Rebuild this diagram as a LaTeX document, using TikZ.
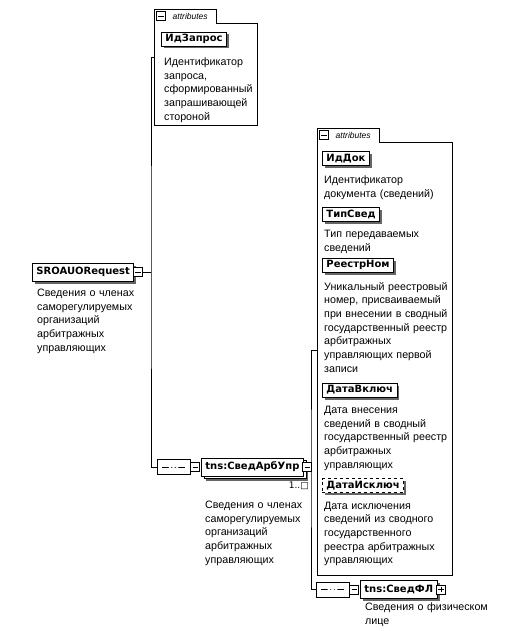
\documentclass[tikz,border=0pt]{standalone}
\usepackage{fontspec}
\setmainfont{Liberation Sans}
\newfontfamily\boxfont{DejaVu Sans}
\usetikzlibrary{shapes.misc,shadows}

\newcommand{\descfont}{\fontsize{10.7}{13.7}\selectfont}

\tikzset{
  elbase/.style={draw, line width=0.9pt, fill=white, inner xsep=4pt, inner ysep=0pt,
    minimum height=18pt, anchor=west, font=\boxfont\bfseries\fontsize{10}{12}\selectfont},
  elem/.style={elbase, drop shadow={shadow xshift=2.5pt, shadow yshift=-2.5pt, fill=black!60, opacity=1}},
  multi/.style={elbase, drop shadow={shadow xshift=4.5pt, shadow yshift=-4.5pt, fill=black!60, opacity=1},
    copy shadow={shadow xshift=2.5pt, shadow yshift=-2.5pt}},
  attr/.style={elem, minimum height=14pt},
  optattr/.style={attr, dashed},
  desc/.style={anchor=base west, inner sep=0pt, text width=140pt, align=left, font=\descfont},
  expbox/.style={draw, fill=white, line width=0.6pt, minimum size=9pt, inner sep=0pt,
    path picture={\draw[line width=0.6pt] ([xshift=1.8pt]path picture bounding box.west) -- ([xshift=-1.8pt]path picture bounding box.east);}},
  plusbox/.style={draw, fill=white, line width=0.6pt, minimum size=9pt, inner sep=0pt,
    path picture={
      \draw[line width=0.6pt] ([xshift=1.8pt]path picture bounding box.west) -- ([xshift=-1.8pt]path picture bounding box.east);
      \draw[line width=0.6pt] ([yshift=-1.8pt]path picture bounding box.north) -- ([yshift=1.8pt]path picture bounding box.south);}},
  seqbox/.style={chamfered rectangle, chamfered rectangle xsep=3pt, draw, line width=0.8pt, fill=white,
    minimum width=33pt, minimum height=15pt, inner sep=0pt,
    path picture={
      \draw[line width=0.8pt] ([xshift=5pt]path picture bounding box.west) -- ([xshift=-5pt]path picture bounding box.east);
      \fill (path picture bounding box.center) circle (1.5pt);
      \fill ([xshift=-3.5pt]path picture bounding box.center) circle (1.5pt);
      \fill ([xshift=3.5pt]path picture bounding box.center) circle (1.5pt);}},
  attrbody/.style={inner sep=0pt, anchor=north west},
  attrtab/.style={inner xsep=2pt, inner ysep=0pt, minimum height=13pt, minimum width=62pt, anchor=south west,
    font=\itshape\fontsize{8.5}{10}\selectfont},
  wire/.style={line width=0.8pt}
}

\begin{document}
\begin{tikzpicture}[x=1pt,y=-1pt]
  \useasboundingbox (0,0) rectangle (515,631);

  % root element
  \node[elem] (req) at (32,272) {SROAUORequest};
  \node[expbox, anchor=west] (req-exp) at ([xshift=-1pt]req.east) {};
  \node[desc] (req-desc) at (37,296.5) {Сведения о членах\\саморегулируемых\\организаций\\арбитражных\\управляющих};

  % first attribute group
  \node[attrbody, minimum width=103pt, minimum height=102pt] (attrA) at (154,23) {};
  \node[attrtab] (tabA) at (attrA.north west) {\hspace*{10pt}attributes};
  \draw[line width=0.8pt] (attrA.south west) -- (tabA.north west) -- (tabA.north east)
    -- (tabA.south east) -- (attrA.north east) -- (attrA.south east) -- cycle;
  \node[expbox] (tabA-exp) at ([xshift=7pt]tabA.west) {};
  \node[attr] (idz) at (161,39) {ИдЗапрос};
  \node[desc] (idz-desc) at (164,65.5) {Идентификатор\\запроса,\\сформированный\\запрашивающей\\стороной};

  % sequence and child element
  \node[seqbox] (seq1) at (173.5,467) {};
  \node[expbox, anchor=west] (seq1-exp) at (seq1.east) {};
  \node[multi] (arb) at ([xshift=1pt]seq1-exp.east) {tns:СведАрбУпр};
  \node[expbox, anchor=west] (arb-exp) at ([xshift=-1.5pt]arb.east) {};
  \node[anchor=east, inner sep=0pt, font=\boxfont\fontsize{9}{10}\selectfont] (arb-mult) at (309,486) {1..□};
  \node[desc] (arb-desc) at (205,508.5) {Сведения о членах\\саморегулируемых\\организаций\\арбитражных\\управляющих};

  \coordinate (a1) at (154,57);
  \coordinate (br1) at (151,272);
  \draw[wire] (req-exp.east) -- (br1);
  \draw[wire] (a1) -| (br1) |- (seq1.west);

  % second attribute group
  \node[attrbody, minimum width=135pt, minimum height=433pt] (attrB) at (317,142) {};
  \node[attrtab] (tabB) at (attrB.north west) {\hspace*{10pt}attributes};
  \draw[line width=0.8pt] (attrB.south west) -- (tabB.north west) -- (tabB.north east)
    -- (tabB.south east) -- (attrB.north east) -- (attrB.south east) -- cycle;
  \node[expbox] (tabB-exp) at ([xshift=7pt]tabB.west) {};

  \node[attr] (iddok) at (322,158.5) {ИдДок};
  \node[desc] (iddok-desc) at (324,183.5) {Идентификатор\\документа (сведений)};
  \node[attr] (tip) at (322,214) {ТипСвед};
  \node[desc] (tip-desc) at (324,237.5) {Тип передаваемых\\сведений};
  \node[attr] (reg) at (322,265) {РеестрНом};
  \node[desc] (reg-desc) at (324,290) {Уникальный реестровый\\номер, присваиваемый\\при внесении в сводный\\государственный реестр\\арбитражных\\управляющих первой\\записи};
  \node[attr] (dvk) at (322,390) {ДатаВключ};
  \node[desc] (dvk-desc) at (324,413.5) {Дата внесения\\сведений в сводный\\государственный реестр\\арбитражных\\управляющих};
  \node[optattr] (dis) at (322,485.5) {ДатаИсключ};
  \node[desc] (dis-desc) at (324,509) {Дата исключения\\сведений из сводного\\государственного\\реестра арбитражных\\управляющих};

  % second sequence
  \node[seqbox] (seq2) at (332.5,589.5) {};
  \node[expbox, anchor=west] (seq2-exp) at (seq2.east) {};
  \node[elem] (fl) at ([xshift=1pt]seq2-exp.east) {tns:СведФЛ};
  \node[plusbox, anchor=west] (fl-exp) at ([xshift=-1.5pt]fl.east) {};
  \node[desc] (fl-desc) at (365,610.5) {Сведения о физическом\\лице};

  \coordinate (a2) at (317,350);
  \coordinate (br2) at (311,467);
  \draw[wire] (arb-exp.east) -- (br2);
  \draw[wire] (a2) -| (br2) |- (seq2.west);
\end{tikzpicture}
\end{document}
